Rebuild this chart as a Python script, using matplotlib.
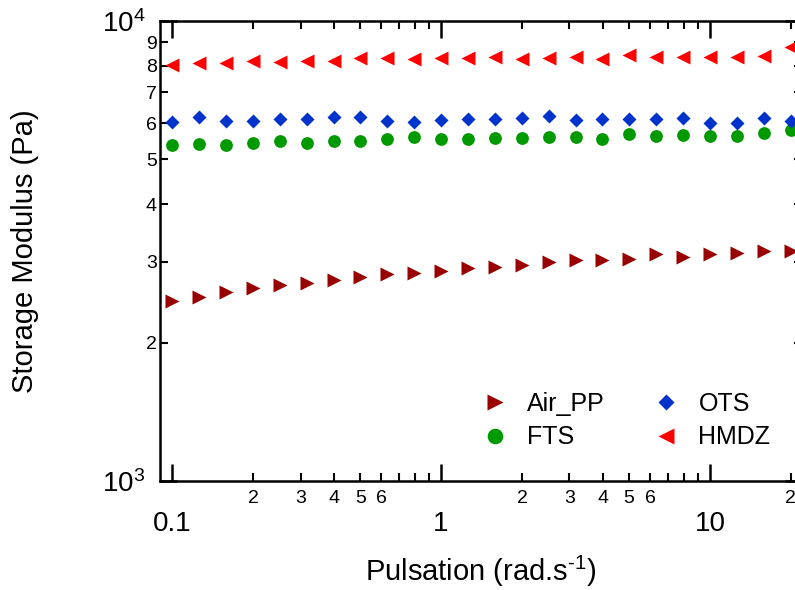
import numpy as np
import matplotlib
matplotlib.use("Agg")
import matplotlib.pyplot as plt
from matplotlib.ticker import FixedLocator, FixedFormatter

# ---------------- data ----------------
pulsation = [0.1 * 10 ** (k / 10) for k in range(24)]  # 10 points per decade, 0.1 .. ~20

air_pp = [2460, 2515, 2580, 2625, 2670, 2700, 2735, 2770, 2815, 2830, 2860, 2900,
          2925, 2950, 2990, 3020, 3020, 3035, 3115, 3075, 3110, 3125, 3165, 3165]
fts = [5380, 5400, 5380, 5440, 5480, 5440, 5490, 5490, 5530, 5590, 5530, 5540,
       5560, 5580, 5590, 5600, 5530, 5670, 5620, 5650, 5620, 5620, 5720, 5800]
ots = [6040, 6190, 6070, 6070, 6120, 6120, 6180, 6180, 6070, 6040, 6090, 6110,
       6110, 6140, 6220, 6090, 6110, 6110, 6110, 6160, 6010, 6010, 6160, 6070]
hmdz = [8020, 8090, 8090, 8190, 8150, 8190, 8190, 8300, 8300, 8270, 8300, 8320,
        8360, 8270, 8320, 8360, 8270, 8440, 8340, 8340, 8340, 8360, 8390, 8770]

series_names = ["Air_PP", "FTS", "OTS", "HMDZ"]

x_major_ticks = [0.1, 1, 10]
x_major_labels = ["0.1", "1", "10"]
x_minor_mult = [2, 3, 4, 5, 6, 7, 8, 9]
x_minor_labeled = [2, 3, 4, 5, 6]
y_major_ticks = [1000, 10000]
y_major_labels = [r"$\mathregular{10^{3}}$", r"$\mathregular{10^{4}}$"]
y_minor_ticks = [2000, 3000, 4000, 5000, 6000, 7000, 8000, 9000]
y_minor_labels = ["2", "3", "4", "5", "6", "7", "8", "9"]

xlabel = r"Pulsation (rad.$\mathregular{s^{\text{-}1}}$)"
ylabel = "Storage Modulus (Pa)"

# ---------------- style ----------------
plt.rcParams["font.family"] = ["Liberation Sans", "DejaVu Sans"]
plt.rcParams["mathtext.fontset"] = "custom"
plt.rcParams["mathtext.rm"] = "Liberation Sans"
plt.rcParams["mathtext.it"] = "Liberation Sans:italic"
plt.rcParams["mathtext.bf"] = "Liberation Sans:bold"

W, H = 795, 590
fig = plt.figure(figsize=(W / 100, H / 100), dpi=100)
ax_l, ax_r, ax_t, ax_b = 160, 802, 21, 481
ax = fig.add_axes([ax_l / W, (H - ax_b) / H, (ax_r - ax_l) / W, (ax_b - ax_t) / H])

ax.set_xscale("log")
ax.set_yscale("log")
ax.set_xlim(0.09, 22)
ax.set_ylim(1000, 10000)

ax.plot(pulsation, air_pp, ls="none", marker=">", ms=9.4, color="#990000", mec="none", label=series_names[0])
ax.plot(pulsation, fts, ls="none", marker="o", ms=9.2, color="#009900", mec="none", label=series_names[1])
ax.plot(pulsation, ots, ls="none", marker="D", ms=6.8, color="#0033cc", mec="none", label=series_names[2])
ax.plot(pulsation, hmdz, ls="none", marker="<", ms=9.4, color="#ff0000", mec="none", label=series_names[3])

# ticks
xmin, xmax = ax.get_xlim()
minor_x = []
minor_x_lab = []
for d in (-1, 0, 1):
    for m in x_minor_mult:
        v = m * 10 ** d
        if xmin <= v <= xmax:
            minor_x.append(v)
            minor_x_lab.append(str(m) if m in x_minor_labeled else "")
ax.xaxis.set_major_locator(FixedLocator(x_major_ticks))
ax.xaxis.set_major_formatter(FixedFormatter(x_major_labels))
ax.xaxis.set_minor_locator(FixedLocator(minor_x))
ax.xaxis.set_minor_formatter(FixedFormatter(minor_x_lab))
ax.yaxis.set_major_locator(FixedLocator(y_major_ticks))
ax.yaxis.set_major_formatter(FixedFormatter(y_major_labels))
ax.yaxis.set_minor_locator(FixedLocator(y_minor_ticks))
ax.yaxis.set_minor_formatter(FixedFormatter(y_minor_labels))

ax.tick_params(which="both", direction="in", top=True, right=True, color="black")
ax.tick_params(axis="x", which="major", length=12, width=1.8, pad=21.5, labelsize=20)
ax.tick_params(axis="x", which="minor", length=6, width=1.5, pad=6.5, labelsize=14)
ax.tick_params(axis="y", which="major", length=12, width=1.8, pad=10.5, labelsize=20)
ax.tick_params(axis="y", which="minor", length=6, width=1.5, pad=2.2, labelsize=14)

for s in ax.spines.values():
    s.set_linewidth(1.8)

ax.set_xlabel(xlabel, fontsize=21)
ax.set_ylabel(ylabel, fontsize=21)
ax.yaxis.set_label_coords((39.5 - ax_l) / (ax_r - ax_l), 0.5)
ax.xaxis.set_label_coords(0.5, -(554 - ax_b) / (ax_b - ax_t))

leg = ax.legend(ncol=2, frameon=False, fontsize=18, markerscale=1.22,
                handlelength=1.0, handletextpad=0.8, columnspacing=1.95,
                labelspacing=0.37, borderpad=0, borderaxespad=0,
                loc="upper left", bbox_to_anchor=(482 / W, 1 - 392 / H),
                bbox_transform=fig.transFigure)

fig.savefig("out.png", dpi=100)
